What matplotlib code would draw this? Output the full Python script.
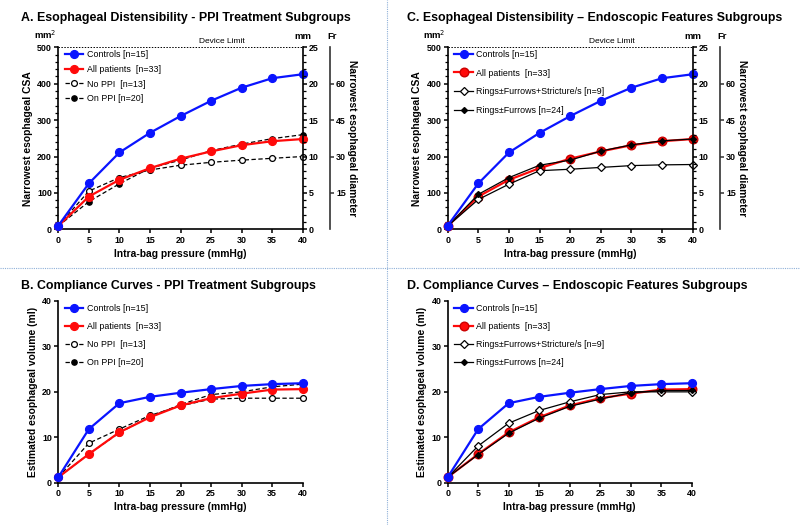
import matplotlib
matplotlib.use("Agg")
import matplotlib.pyplot as plt
from matplotlib.lines import Line2D
from matplotlib.ticker import MultipleLocator

plt.rcParams['font.family'] = ['Liberation Sans', 'DejaVu Sans']

pressure = [0, 5, 10, 15, 20, 25, 30, 35, 40]

# CSA (mm^2)
csa_controls = [10, 126, 211, 265, 311, 353, 389, 415, 426]
csa_all = [9, 90, 136, 168, 194, 214, 231, 242, 248]
csa_noppi = [10, 105, 142, 163, 176, 184, 190, 195, 200]
csa_onppi = [9, 76, 125, 168, 190, 216, 234, 249, 260]
csa_strict = [9, 82, 124, 161, 165, 170, 175, 177, 178]
csa_rings = [9, 96, 142, 176, 190, 215, 232, 243, 248]

# Volume (ml)
vol_controls = [1.2, 11.8, 17.5, 18.9, 19.8, 20.6, 21.3, 21.7, 21.9]
vol_all = [1.2, 6.3, 11.1, 14.4, 17.0, 18.6, 19.6, 20.5, 20.6]
vol_noppi = [1.2, 8.7, 11.8, 14.8, 16.9, 18.4, 18.6, 18.6, 18.6]
vol_onppi = [1.2, 6.3, 11.0, 14.5, 17.2, 19.4, 20.0, 21.1, 21.7]
vol_strict = [1.2, 8.1, 13.1, 15.9, 17.8, 19.4, 20.0, 20.0, 20.0]
vol_rings = [1.2, 6.2, 10.9, 14.2, 16.8, 18.4, 19.8, 20.3, 20.3]

lbl_controls = "Controls [n=15]"
lbl_all = "All patients  [n=33]"
lbl_noppi = "No PPI  [n=13]"
lbl_onppi = "On PPI [n=20]"
lbl_strict = "Rings\u00b1Furrows+Stricture/s [n=9]"
lbl_rings = "Rings\u00b1Furrows [n=24]"

W, H = 800, 525
fig = plt.figure(figsize=(8, 5.25), dpi=100)

def ax_at(x0, y0, x1, y1):
    return fig.add_axes([x0 / W, 1 - y1 / H, (x1 - x0) / W, (y1 - y0) / H])

dash = (0, (3.5, 2))
TICKFS = 6.4
LABFS = 7.4
TITLEFS = 8.9
LEGFS = 6.4

def style_common(ax):
    ax.set_xlim(0, 40)
    ax.set_xticks(pressure)
    ax.spines['top'].set_visible(False)
    ax.spines['right'].set_visible(False)
    for s in ('left', 'bottom'):
        ax.spines[s].set_linewidth(1.2)
    ax.tick_params(axis='both', labelsize=TICKFS, width=1.1, length=3, pad=1.5)
    for t in ax.get_xticklabels() + ax.get_yticklabels():
        t.set_fontweight('bold')
    ax.set_xlabel("Intra-bag pressure (mmHg)", fontsize=LABFS, fontweight='bold', labelpad=3)

def plot_series(ax, panel, kind, spacing):
    if kind == 'csa':
        c, a = csa_controls, csa_all
        if panel == 'ppi':
            s1, s2 = csa_noppi, csa_onppi
        else:
            s1, s2 = csa_strict, csa_rings
    else:
        c, a = vol_controls, vol_all
        if panel == 'ppi':
            s1, s2 = vol_noppi, vol_onppi
        else:
            s1, s2 = vol_strict, vol_rings
    hc, = ax.plot(pressure, c, color='#0a14ff', lw=1.6, marker='o', ms=5.6,
                  label=lbl_controls, clip_on=False, zorder=5)
    if panel == 'ppi':
        h1, = ax.plot(pressure, s1, color='black', lw=0.9, ls=dash, marker='o', ms=4.2,
                      mfc='white', mec='black', mew=0.9, label=lbl_noppi, clip_on=False, zorder=3)
        h2, = ax.plot(pressure, s2, color='black', lw=0.9, ls=dash, marker='o', ms=3.8,
                      mfc='black', mec='black', label=lbl_onppi, clip_on=False, zorder=3)
        ha, = ax.plot(pressure, a, color='#ff0a0a', lw=1.6, marker='o', ms=5.6,
                      label=lbl_all, clip_on=False, zorder=4)
    else:
        ha, = ax.plot(pressure, a, color='#ff0a0a', lw=1.6, marker='o', ms=6.2,
                      mec='#cc0000', label=lbl_all, clip_on=False, zorder=3)
        h1, = ax.plot(pressure, s1, color='black', lw=0.9, marker='D', ms=3.8,
                      mfc='white', mec='black', mew=0.9, label=lbl_strict, clip_on=False, zorder=4)
        h2, = ax.plot(pressure, s2, color='black', lw=0.9, marker='D', ms=3.0,
                      mfc='black', mec='black', label=lbl_rings, clip_on=False, zorder=4)
    leg = ax.legend([hc, ha, h1, h2], [hc.get_label(), ha.get_label(), h1.get_label(), h2.get_label()],
                    loc='upper left', frameon=False, fontsize=LEGFS, handlelength=2.1,
                    handletextpad=0.35, labelspacing=spacing, borderaxespad=0.0,
                    bbox_to_anchor=(0.012, 1.005))
    leg.set_zorder(10)

def distensibility(x0, x1, panel, title, title_x, spacing):
    ax = ax_at(x0, 47.3, x1, 229.3)
    plot_series(ax, panel, 'csa', spacing)
    style_common(ax)
    ax.set_ylim(0, 500)
    ax.set_yticks([0, 100, 200, 300, 400, 500])
    ax.yaxis.set_minor_locator(MultipleLocator(20))
    ax.tick_params(axis='y', which='minor', length=2, width=0.9)
    for t in ax.get_yticklabels():
        t.set_fontweight('bold')
    ax.set_ylabel("Narrowest esophageal CSA", fontsize=LABFS, fontweight='bold', labelpad=3)
    ax.axhline(500, color='black', lw=0.7, ls=(0, (1.5, 1.5)), zorder=1, clip_on=False)
    ax.text(26.8, 505, "Device Limit", ha='center', va='bottom', fontsize=6)
    ax.text(-0.055, 1.035, "mm$^2$", transform=ax.transAxes, ha='center', va='bottom',
            fontsize=6.8, fontweight='bold')
    # mm axis
    ax2 = ax.twinx()
    ax2.set_ylim(0, 25)
    ax2.set_yticks([0, 5, 10, 15, 20, 25])
    ax2.yaxis.set_minor_locator(MultipleLocator(1))
    for s in ('top', 'left', 'bottom'):
        ax2.spines[s].set_visible(False)
    ax2.spines['right'].set_linewidth(1.2)
    ax2.tick_params(axis='y', which='major', labelsize=TICKFS, width=1.1, length=3, pad=1.5)
    ax2.tick_params(axis='y', which='minor', width=0.9, length=2)
    for t in ax2.get_yticklabels():
        t.set_fontweight('bold')
    ax2.text(1.0, 1.035, "mm", transform=ax2.transAxes, ha='center', va='bottom',
             fontsize=6.8, fontweight='bold')
    # Fr axis
    ax3 = ax.twinx()
    ax3.set_ylim(0, 75)
    ax3.set_yticks([15, 30, 45, 60])
    for s in ('top', 'left', 'bottom'):
        ax3.spines[s].set_visible(False)
    ax3.spines['right'].set_position(('outward', 19.5))
    ax3.spines['right'].set_linewidth(1.2)
    ax3.spines['right'].set_color('#333333')
    ax3.tick_params(axis='y', labelsize=TICKFS, width=1.1, length=3, pad=1.5, color='#333333')
    for t in ax3.get_yticklabels():
        t.set_fontweight('bold')
    ax3.set_ylabel("Narrowest esophageal diameter", fontsize=LABFS, fontweight='bold',
                   rotation=270, labelpad=8)
    ax3.text(1.12, 1.035, "Fr", transform=ax3.transAxes, ha='center', va='bottom',
             fontsize=6.8, fontweight='bold')
    fig.text(title_x / W, 1 - 18 / H, title, fontsize=TITLEFS, fontweight='bold',
             ha='left', va='center')

def compliance(x0, x1, panel, title, title_x, spacing):
    ax = ax_at(x0, 301, x1, 482.7)
    plot_series(ax, panel, 'vol', spacing)
    style_common(ax)
    ax.set_ylim(0, 40)
    ax.set_yticks([0, 10, 20, 30, 40])
    for t in ax.get_yticklabels():
        t.set_fontweight('bold')
    ax.set_ylabel("Estimated esophageal volume (ml)", fontsize=LABFS, fontweight='bold', labelpad=3)
    fig.text(title_x / W, 1 - 286 / H, title, fontsize=TITLEFS, fontweight='bold',
             ha='left', va='center')

distensibility(58.3, 302.7, 'ppi', "A. Esophageal Distensibility - PPI Treatment Subgroups", 21, 0.65)
distensibility(447.7, 692.7, 'endo', "C. Esophageal Distensibility \u2013 Endoscopic Features Subgroups", 407, 1.08)
compliance(58.3, 302.7, 'ppi', "B. Compliance Curves - PPI Treatment Subgroups", 21, 1.02)
compliance(447.7, 691.7, 'endo', "D. Compliance Curves \u2013 Endoscopic Features Subgroups", 407, 1.02)

# dotted dividers
div_col = '#8fb0d8'
fig.add_artist(Line2D([0.0, 1.0], [1 - 268 / H, 1 - 268 / H], transform=fig.transFigure,
                      color=div_col, lw=0.8, ls=(0, (1, 1))))
fig.add_artist(Line2D([387 / W, 387 / W], [0.0, 1.0], transform=fig.transFigure,
                      color=div_col, lw=0.8, ls=(0, (1, 1))))

fig.savefig("out.png", dpi=100)
